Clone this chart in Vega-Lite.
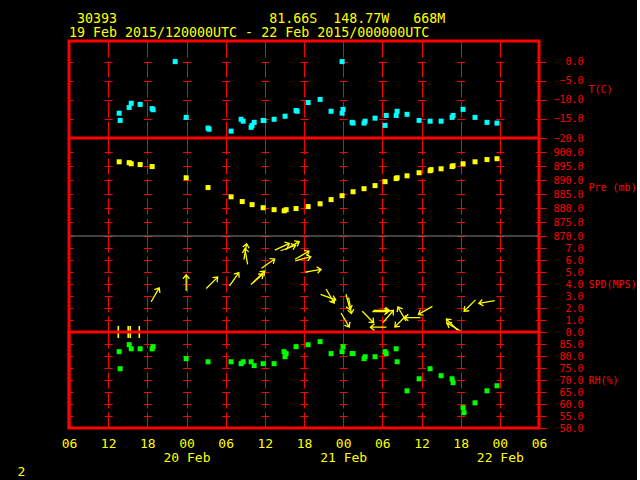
{
"$schema":"https://vega.github.io/schema/vega-lite/v6.json",
"autosize":{"type":"pad"},
"padding":{"left":15,"top":11,"right":0,"bottom":0},
"background":"#000000",
"title":{"text":"\u200b\u00a030393\u00a0\u00a0\u00a0\u00a0\u00a0\u00a0\u00a0\u00a0\u00a0\u00a0\u00a0\u00a0\u00a0\u00a0\u00a0\u00a0\u00a0\u00a0\u00a081.66S\u00a0\u00a0148.77W\u00a0\u00a0\u00a0668M","subtitle":"19 Feb 2015/120000UTC - 22 Feb 2015/000000UTC","anchor":"start","frame":"group","color":"#ffff00","subtitleColor":"#ffff00","font":"DejaVu Sans Mono","subtitleFont":"DejaVu Sans Mono","fontSize":13.3,"subtitleFontSize":13.3,"fontWeight":"normal","offset":0,"subtitlePadding":1},
"datasets":{
"temp":[
{"time":"2015-02-19T13:41:00Z","T":-13.5},{"time":"2015-02-19T13:50:00Z","T":-15.4},{"time":"2015-02-19T15:13:00Z","T":-12.0},{"time":"2015-02-19T15:32:00Z","T":-10.9},{"time":"2015-02-19T16:54:00Z","T":-11.2},{"time":"2015-02-19T18:44:00Z","T":-12.3},{"time":"2015-02-19T18:53:00Z","T":-12.6},{"time":"2015-02-19T22:16:00Z","T":0.0},{"time":"2015-02-19T23:57:00Z","T":-14.6},
{"time":"2015-02-20T03:18:00Z","T":-17.4},{"time":"2015-02-20T03:28:00Z","T":-17.7},{"time":"2015-02-20T06:50:00Z","T":-18.2},{"time":"2015-02-20T08:22:00Z","T":-15.1},{"time":"2015-02-20T08:41:00Z","T":-15.6},{"time":"2015-02-20T09:54:00Z","T":-17.2},{"time":"2015-02-20T10:03:00Z","T":-16.7},{"time":"2015-02-20T10:22:00Z","T":-15.9},{"time":"2015-02-20T11:44:00Z","T":-15.4},{"time":"2015-02-20T11:52:00Z","T":-15.4},{"time":"2015-02-20T13:25:00Z","T":-15.1},{"time":"2015-02-20T15:06:00Z","T":-14.3},{"time":"2015-02-20T16:47:00Z","T":-12.8},{"time":"2015-02-20T16:57:00Z","T":-13.0},{"time":"2015-02-20T18:38:00Z","T":-10.7},{"time":"2015-02-20T20:28:00Z","T":-9.9},{"time":"2015-02-20T22:09:00Z","T":-13.0},{"time":"2015-02-20T23:50:00Z","T":0.0},{"time":"2015-02-20T23:59:00Z","T":-12.5},{"time":"2015-02-20T23:50:00Z","T":-13.5},
{"time":"2015-02-21T01:22:00Z","T":-15.9},{"time":"2015-02-21T01:31:00Z","T":-16.1},{"time":"2015-02-21T03:12:00Z","T":-16.1},{"time":"2015-02-21T03:22:00Z","T":-15.6},{"time":"2015-02-21T04:53:00Z","T":-14.8},{"time":"2015-02-21T06:25:00Z","T":-16.7},{"time":"2015-02-21T06:35:00Z","T":-14.1},{"time":"2015-02-21T08:07:00Z","T":-14.1},{"time":"2015-02-21T08:16:00Z","T":-13.0},{"time":"2015-02-21T09:47:00Z","T":-13.8},{"time":"2015-02-21T11:38:00Z","T":-15.4},{"time":"2015-02-21T13:19:00Z","T":-15.6},{"time":"2015-02-21T15:00:00Z","T":-15.6},{"time":"2015-02-21T16:41:00Z","T":-14.6},{"time":"2015-02-21T16:50:00Z","T":-14.1},{"time":"2015-02-21T18:22:00Z","T":-12.5},{"time":"2015-02-21T20:12:00Z","T":-14.6},{"time":"2015-02-21T22:02:00Z","T":-15.9},{"time":"2015-02-21T23:34:00Z","T":-16.1}
],
"pres":[
{"time":"2015-02-19T13:41:00Z","P":896.5},{"time":"2015-02-19T15:13:00Z","P":896.2},{"time":"2015-02-19T15:32:00Z","P":895.8},{"time":"2015-02-19T16:54:00Z","P":895.5},{"time":"2015-02-19T18:44:00Z","P":894.8},{"time":"2015-02-19T23:57:00Z","P":890.8},
{"time":"2015-02-20T03:18:00Z","P":887.3},{"time":"2015-02-20T06:50:00Z","P":884.0},{"time":"2015-02-20T08:32:00Z","P":882.3},{"time":"2015-02-20T10:03:00Z","P":881.2},{"time":"2015-02-20T11:44:00Z","P":880.1},{"time":"2015-02-20T13:25:00Z","P":879.4},{"time":"2015-02-20T14:58:00Z","P":879.0},{"time":"2015-02-20T15:16:00Z","P":879.4},{"time":"2015-02-20T16:47:00Z","P":879.8},{"time":"2015-02-20T18:38:00Z","P":880.5},{"time":"2015-02-20T20:28:00Z","P":881.5},{"time":"2015-02-20T22:09:00Z","P":883.0},{"time":"2015-02-20T23:50:00Z","P":884.4},
{"time":"2015-02-21T01:31:00Z","P":885.8},{"time":"2015-02-21T03:12:00Z","P":886.9},{"time":"2015-02-21T04:53:00Z","P":888.0},{"time":"2015-02-21T06:25:00Z","P":889.4},{"time":"2015-02-21T08:07:00Z","P":890.5},{"time":"2015-02-21T08:16:00Z","P":890.8},{"time":"2015-02-21T09:47:00Z","P":891.5},{"time":"2015-02-21T11:38:00Z","P":892.6},{"time":"2015-02-21T13:19:00Z","P":893.3},{"time":"2015-02-21T13:28:00Z","P":893.7},{"time":"2015-02-21T15:00:00Z","P":894.0},{"time":"2015-02-21T16:41:00Z","P":894.8},{"time":"2015-02-21T16:50:00Z","P":895.1},{"time":"2015-02-21T18:22:00Z","P":895.8},{"time":"2015-02-21T20:12:00Z","P":896.5},{"time":"2015-02-21T22:02:00Z","P":897.3},{"time":"2015-02-21T23:34:00Z","P":897.6}
],
"wind":[
{"time":"2015-02-19T13:33:00Z","spd":0,"dir":0},{"time":"2015-02-19T15:04:00Z","spd":0,"dir":0},{"time":"2015-02-19T15:23:00Z","spd":0,"dir":0},{"time":"2015-02-19T16:46:00Z","spd":0,"dir":0},
{"time":"2015-02-19T19:12:00Z","spd":3.1,"dir":30},{"time":"2015-02-19T23:57:00Z","spd":4.1,"dir":0},{"time":"2015-02-20T03:54:00Z","spd":4.1,"dir":45},{"time":"2015-02-20T07:18:00Z","spd":4.4,"dir":35},{"time":"2015-02-20T09:00:00Z","spd":6.7,"dir":10},{"time":"2015-02-20T09:09:00Z","spd":6.3,"dir":350},{"time":"2015-02-20T10:48:00Z","spd":4.4,"dir":50},{"time":"2015-02-20T11:06:00Z","spd":4.6,"dir":45},{"time":"2015-02-20T12:30:00Z","spd":5.7,"dir":55},{"time":"2015-02-20T14:39:00Z","spd":7.1,"dir":65},{"time":"2015-02-20T15:34:00Z","spd":7.0,"dir":70},{"time":"2015-02-20T16:12:00Z","spd":7.2,"dir":60},{"time":"2015-02-20T17:42:00Z","spd":6.4,"dir":60},{"time":"2015-02-20T17:51:00Z","spd":6.1,"dir":75},{"time":"2015-02-20T19:24:00Z","spd":5.1,"dir":80},{"time":"2015-02-20T21:42:00Z","spd":2.9,"dir":110},{"time":"2015-02-20T22:00:00Z","spd":3.0,"dir":150},
{"time":"2015-02-21T00:45:00Z","spd":2.5,"dir":165},{"time":"2015-02-21T01:03:00Z","spd":2.2,"dir":170},{"time":"2015-02-21T00:18:00Z","spd":1.0,"dir":150},{"time":"2015-02-21T03:48:00Z","spd":1.25,"dir":135},{"time":"2015-02-21T05:42:00Z","spd":1.7,"dir":90},{"time":"2015-02-21T05:51:00Z","spd":1.8,"dir":90},{"time":"2015-02-21T05:24:00Z","spd":0.4,"dir":270},{"time":"2015-02-21T06:54:00Z","spd":1.3,"dir":40},{"time":"2015-02-21T09:00:00Z","spd":1.5,"dir":330},{"time":"2015-02-21T10:36:00Z","spd":1.2,"dir":270},{"time":"2015-02-21T08:48:00Z","spd":0.9,"dir":225},{"time":"2015-02-21T12:36:00Z","spd":1.8,"dir":240},{"time":"2015-02-21T16:42:00Z","spd":0.6,"dir":315},{"time":"2015-02-21T17:00:00Z","spd":0.4,"dir":300},{"time":"2015-02-21T19:24:00Z","spd":2.2,"dir":225},{"time":"2015-02-21T22:00:00Z","spd":2.5,"dir":260}
],
"rh":[
{"time":"2015-02-19T13:41:00Z","RH":81.8},{"time":"2015-02-19T13:50:00Z","RH":74.7},{"time":"2015-02-19T15:13:00Z","RH":84.7},{"time":"2015-02-19T15:32:00Z","RH":83.0},{"time":"2015-02-19T16:54:00Z","RH":83.0},{"time":"2015-02-19T18:44:00Z","RH":83.0},{"time":"2015-02-19T18:53:00Z","RH":83.9},{"time":"2015-02-19T23:57:00Z","RH":78.9},
{"time":"2015-02-20T03:18:00Z","RH":77.6},{"time":"2015-02-20T06:50:00Z","RH":77.6},{"time":"2015-02-20T08:22:00Z","RH":76.8},{"time":"2015-02-20T08:41:00Z","RH":77.6},{"time":"2015-02-20T09:54:00Z","RH":77.6},{"time":"2015-02-20T10:22:00Z","RH":76.0},{"time":"2015-02-20T11:44:00Z","RH":76.8},{"time":"2015-02-20T13:25:00Z","RH":76.8},{"time":"2015-02-20T14:57:00Z","RH":81.8},{"time":"2015-02-20T15:16:00Z","RH":81.0},{"time":"2015-02-20T15:06:00Z","RH":79.7},{"time":"2015-02-20T16:47:00Z","RH":83.9},{"time":"2015-02-20T18:38:00Z","RH":84.7},{"time":"2015-02-20T20:28:00Z","RH":86.0},{"time":"2015-02-20T22:09:00Z","RH":81.0},{"time":"2015-02-20T23:59:00Z","RH":83.9},{"time":"2015-02-20T23:50:00Z","RH":81.8},
{"time":"2015-02-21T01:22:00Z","RH":81.0},{"time":"2015-02-21T01:31:00Z","RH":81.0},{"time":"2015-02-21T03:12:00Z","RH":78.9},{"time":"2015-02-21T03:22:00Z","RH":79.7},{"time":"2015-02-21T04:53:00Z","RH":79.7},{"time":"2015-02-21T06:25:00Z","RH":81.8},{"time":"2015-02-21T06:35:00Z","RH":81.0},{"time":"2015-02-21T08:07:00Z","RH":83.0},{"time":"2015-02-21T08:16:00Z","RH":77.6},{"time":"2015-02-21T09:47:00Z","RH":65.5},{"time":"2015-02-21T11:38:00Z","RH":70.5},{"time":"2015-02-21T13:19:00Z","RH":74.7},{"time":"2015-02-21T15:00:00Z","RH":71.8},{"time":"2015-02-21T16:41:00Z","RH":70.5},{"time":"2015-02-21T16:50:00Z","RH":68.9},{"time":"2015-02-21T18:22:00Z","RH":58.5},{"time":"2015-02-21T18:31:00Z","RH":56.4},{"time":"2015-02-21T20:12:00Z","RH":60.5},{"time":"2015-02-21T22:02:00Z","RH":65.5},{"time":"2015-02-21T23:34:00Z","RH":67.6}
]
},
"spacing":0,
"bounds":"flush",
"vconcat":[
{"width":470,"height":97,"view":{"stroke":"#ff0000","strokeWidth":3},
 "layer":[
 {"data":{"name":"temp"},"mark":{"type":"point","shape":"square","filled":true,"size":25,"color":"#00ffff","opacity":1},
  "encoding":{"x":{"field":"time","type":"temporal","title":null,"scale":{"type":"utc","domain":[{"year":2015,"month":2,"date":19,"hours":6,"utc":true},{"year":2015,"month":2,"date":22,"hours":6,"utc":true}]},"axis":{"labels":false}},
   "y":{"field":"T","type":"quantitative","scale":{"domain":[-20,5.4],"zero":false,"nice":false},"axis":{"orient":"right","values":[-20,-15,-10,-5,0],"title":"T(C)","titleY":48}}}}
 ]},
{"width":470,"height":98,
 "layer":[
 {"data":{"name":"pres"},"mark":{"type":"point","shape":"square","filled":true,"size":25,"color":"#ffff00","opacity":1},
  "encoding":{"x":{"field":"time","type":"temporal","title":null,"scale":{"type":"utc","domain":[{"year":2015,"month":2,"date":19,"hours":6,"utc":true},{"year":2015,"month":2,"date":22,"hours":6,"utc":true}]},"axis":{"labels":false}},
   "y":{"field":"P","type":"quantitative","scale":{"domain":[870,905],"zero":false,"nice":false},"axis":{"orient":"right","values":[870,875,880,885,890,895,900],"title":"Pre (mb)","titleY":49}}}},
 {"data":{"values":[{}]},"mark":{"type":"rule","color":"#808080","strokeWidth":1},"encoding":{"y":{"datum":870,"type":"quantitative","scale":{"domain":[870,905],"zero":false,"nice":false},"axis":{"orient":"right","values":[870,875,880,885,890,895,900],"title":"Pre (mb)","titleY":49}}}},
 {"data":{"values":[{}]},"mark":{"type":"rule","color":"#ff0000","strokeWidth":3},"encoding":{"x":{"datum":{"year":2015,"month":2,"date":19,"hours":6,"utc":true},"type":"temporal","scale":{"type":"utc","domain":[{"year":2015,"month":2,"date":19,"hours":6,"utc":true},{"year":2015,"month":2,"date":22,"hours":6,"utc":true}]},"axis":{"labels":false}}}},
 {"data":{"values":[{}]},"mark":{"type":"rule","color":"#ff0000","strokeWidth":3},"encoding":{"x":{"datum":{"year":2015,"month":2,"date":22,"hours":6,"utc":true},"type":"temporal","scale":{"type":"utc","domain":[{"year":2015,"month":2,"date":19,"hours":6,"utc":true},{"year":2015,"month":2,"date":22,"hours":6,"utc":true}]},"axis":{"labels":false}}}}
 ]},
{"width":470,"height":96,
 "layer":[
 {"data":{"name":"wind"},"transform":[{"filter":"datum.spd > 0"}],"mark":{"type":"point","shape":"M0,1L0,-1M-0.4,-0.5L0,-1L0.4,-0.5","filled":false,"color":"#ffff00","strokeWidth":1.3,"size":260,"opacity":1},
  "encoding":{"x":{"field":"time","type":"temporal","title":null,"scale":{"type":"utc","domain":[{"year":2015,"month":2,"date":19,"hours":6,"utc":true},{"year":2015,"month":2,"date":22,"hours":6,"utc":true}]},"axis":{"labels":false}},
   "y":{"field":"spd","type":"quantitative","scale":{"domain":[0,8],"zero":false,"nice":false},"axis":{"orient":"right","values":[0,1,2,3,4,5,6,7],"title":"SPD(MPS)","titleY":48}},
   "angle":{"field":"dir","type":"quantitative","scale":null}}},
 {"data":{"name":"wind"},"transform":[{"filter":"datum.spd == 0"}],"mark":{"type":"point","shape":"M0,-1L0,1","filled":false,"color":"#ffff00","strokeWidth":1.6,"size":144,"opacity":1},
  "encoding":{"x":{"field":"time","type":"temporal","title":null,"scale":{"type":"utc","domain":[{"year":2015,"month":2,"date":19,"hours":6,"utc":true},{"year":2015,"month":2,"date":22,"hours":6,"utc":true}]},"axis":{"labels":false}},
   "y":{"field":"spd","type":"quantitative","scale":{"domain":[0,8],"zero":false,"nice":false},"axis":{"orient":"right","values":[0,1,2,3,4,5,6,7],"title":"SPD(MPS)","titleY":48}}}},
 {"data":{"values":[{}]},"mark":{"type":"rule","color":"#ff0000","strokeWidth":3},"encoding":{"x":{"datum":{"year":2015,"month":2,"date":19,"hours":6,"utc":true},"type":"temporal","scale":{"type":"utc","domain":[{"year":2015,"month":2,"date":19,"hours":6,"utc":true},{"year":2015,"month":2,"date":22,"hours":6,"utc":true}]},"axis":{"labels":false}}}},
 {"data":{"values":[{}]},"mark":{"type":"rule","color":"#ff0000","strokeWidth":3},"encoding":{"x":{"datum":{"year":2015,"month":2,"date":22,"hours":6,"utc":true},"type":"temporal","scale":{"type":"utc","domain":[{"year":2015,"month":2,"date":19,"hours":6,"utc":true},{"year":2015,"month":2,"date":22,"hours":6,"utc":true}]},"axis":{"labels":false}}}}
 ]},
{"width":470,"height":96,"view":{"stroke":"#ff0000","strokeWidth":3},
 "layer":[
 {"data":{"name":"rh"},"mark":{"type":"point","shape":"square","filled":true,"size":25,"color":"#00ff00","opacity":1},
  "encoding":{"x":{"field":"time","type":"temporal","title":"2","scale":{"type":"utc","domain":[{"year":2015,"month":2,"date":19,"hours":6,"utc":true},{"year":2015,"month":2,"date":22,"hours":6,"utc":true}]}},
   "y":{"field":"RH","type":"quantitative","scale":{"domain":[50,90],"zero":false,"nice":false},"axis":{"orient":"right","values":[50,55,60,65,70,75,80,85],"title":"RH(%)","titleY":48}}}},
 {"data":{"values":[{}]},"mark":{"type":"rule","color":"#ff0000","strokeWidth":3},"encoding":{"x":{"datum":{"year":2015,"month":2,"date":19,"hours":6,"utc":true},"type":"temporal","scale":{"type":"utc","domain":[{"year":2015,"month":2,"date":19,"hours":6,"utc":true},{"year":2015,"month":2,"date":22,"hours":6,"utc":true}]},
   "axis":{"orient":"bottom","values":[{"year":2015,"month":2,"date":20,"utc":true},{"year":2015,"month":2,"date":21,"utc":true},{"year":2015,"month":2,"date":22,"utc":true}],"labelExpr":"utcFormat(datum.value,'%d %b')","labelPadding":23,"grid":false,"title":null}}}}
 ],
 "resolve":{"axis":{"x":"independent"}}}
],
"config":{
 "view":{"stroke":null},
 "axisX":{"domain":false,"ticks":false,"grid":true,"gridColor":"#ff0000","gridDash":[16,4],"gridWidth":1,
  "tickCount":12,
  "labelExpr":"utcFormat(datum.value,'%H')",
  "labelColor":"#ffff00","labelFont":"DejaVu Sans Mono","labelFontSize":13,"labelPadding":9,"labelFlush":false,"labelOverlap":false,
  "titleColor":"#ffff00","titleFont":"DejaVu Sans Mono","titleFontSize":13,"titleFontWeight":"normal","titleX":-52,"titleY":43,"titleAlign":"left","titleBaseline":"middle","titleAngle":0},
 "axisY":{"domain":false,"grid":true,"gridColor":"#ff0000","gridDash":[8,31.1667],"gridDashOffset":4,"gridWidth":1,
  "ticks":true,"tickColor":"#ff0000","tickSize":7,"tickWidth":1,
  "labelColor":"#ff0000","labelFont":"DejaVu Sans Mono","labelFontSize":10,"labelAlign":"right","labelBaseline":"middle","labelPadding":37,"labelOverlap":false,"labelFlush":false,"labelBound":false,"format":".1f",
  "titleColor":"#ff0000","titleFont":"DejaVu Sans Mono","titleFontSize":10,"titleFontWeight":"normal","titleAngle":0,"titleAlign":"left","titleBaseline":"middle","titleX":49}
}
}
